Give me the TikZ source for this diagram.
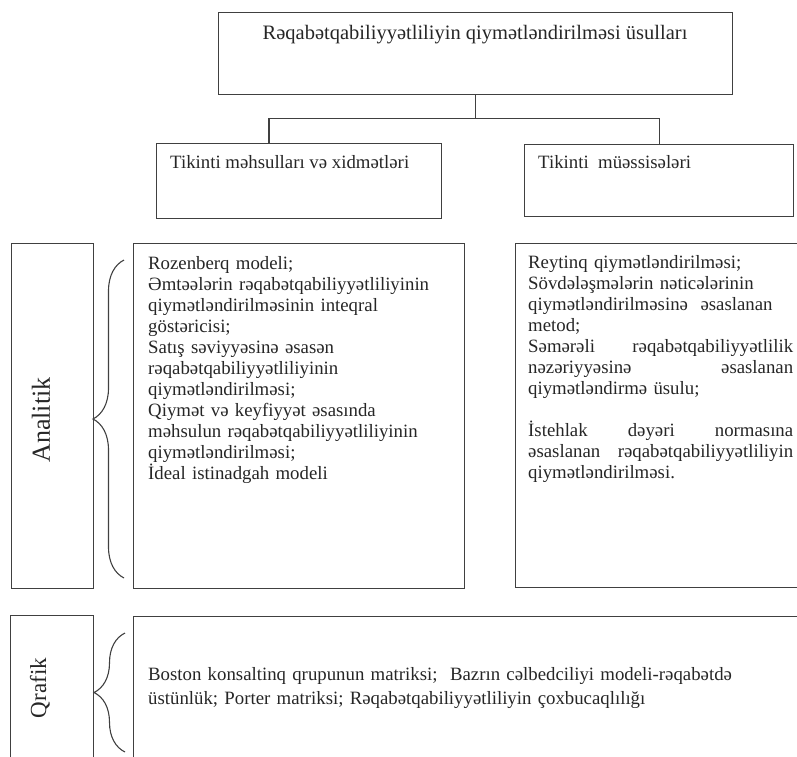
\documentclass[tikz,border=0pt]{standalone}
\usepackage{fontspec}
\setmainfont{Liberation Serif}
\usetikzlibrary{positioning, decorations.pathreplacing}

\begin{document}
\begin{tikzpicture}[x=1pt, y=-1pt,
    box/.style={rectangle, draw=black!75, line width=1.1pt, anchor=north west, inner sep=0pt},
    txt/.style={anchor=base west, inner sep=0pt, align=left, text=black!85, font=\fontsize{18.8}{21}\selectfont},
    side/.style={rotate=90, inner sep=0pt, text=black!85},
    line/.style={draw=black!75, line width=1.1pt},
    curly/.style={draw=black!75, line width=1.1pt, decorate, decoration={brace, amplitude=31pt}}]

    \useasboundingbox (0,0) rectangle (797,756);

    \node[box, minimum width=514pt, minimum height=82pt] (title) at (218,12) {};
    \node[box, minimum width=285pt, minimum height=75pt] (prod) at (156,143) {};
    \node[box, minimum width=269pt, minimum height=72pt] (firm) at (524,144) {};

    \node[box, minimum width=82pt, minimum height=345pt] (anbox) at (11,243) {};
    \node[box, minimum width=331pt, minimum height=345pt] (anlist) at (133,243) {};
    \node[box, minimum width=300pt, minimum height=344pt] (ralist) at (515,243) {};

    \node[box, minimum width=83pt, minimum height=160pt] (qbox) at (10,615) {};
    \node[box, minimum width=690pt, minimum height=160pt] (qlist) at (133,616) {};

    \node[txt, anchor=base, font=\fontsize{20.5}{23}\selectfont] (head) at (475,39) {Rəqabətqabiliyyətliliyin qiymətləndirilməsi üsulları};
    \node[txt] (prodtxt) at (170,168) {Tikinti məhsulları və xidmətləri};
    \node[txt] (firmtxt) at (538,168) {Tikinti\ \ müəssisələri};

    \node[side, font=\fontsize{26}{26}\selectfont] (anlabel) at (41,420) {Analitik};
    \node[side, font=\fontsize{23}{23}\selectfont] (qlabel) at (40,688) {Qrafik};

    \node[txt, text width=310pt] (antxt) at (148,269) {Rozenberq modeli;\\
        Əmtəələrin rəqabətqabiliyyətliliyinin\\
        qiymətləndirilməsinin inteqral\\
        göstəricisi;\\
        Satış səviyyəsinə əsasən\\
        rəqabətqabiliyyətliliyinin\\
        qiymətləndirilməsi;\\
        Qiymət və keyfiyyət əsasında\\
        məhsulun rəqabətqabiliyyətliliyinin\\
        qiymətləndirilməsi;\\
        İdeal istinadgah modeli};
    \node[txt, text width=265pt] (ratxt) at (528,268) {Reytinq qiymətləndirilməsi;\\
        Sövdələşmələrin nəticələrinin\\
        qiymətləndirilməsinə\ \ əsaslanan\\
        metod;\\
        Səmərəli\hfill rəqabətqabiliyyətlilik\\
        nəzəriyyəsinə\hfill əsaslanan\\
        qiymətləndirmə üsulu;\\[21pt]
        İstehlak\hfill dəyəri\hfill normasına\\
        əsaslanan\hfill rəqabətqabiliyyətliliyin\\
        qiymətləndirilməsi.};
    \node[txt, text width=640pt, font=\fontsize{18.8}{24}\selectfont] (qtxt) at (148,680) {Boston konsaltinq qrupunun matriksi;\ \ Bazrın cəlbedciliyi modeli-rəqabətdə\\
        üstünlük; Porter matriksi; Rəqabətqabiliyyətliliyin çoxbucaqlılığı};

    \draw[line] (title.south) -- ++(0,23) coordinate (fork);
    \draw[line] (fork) -| ([xshift=113pt]prod.north west);
    \draw[line] (fork) -| (firm.north);

    \coordinate (anbot) at (124,578);
    \coordinate (antop) at (124,260);
    \draw[curly] (anbot) -- (antop);
    \coordinate (qbot) at (125,752);
    \coordinate (qtop) at (125,633);
    \draw[curly] (qbot) -- (qtop);
\end{tikzpicture}
\end{document}
